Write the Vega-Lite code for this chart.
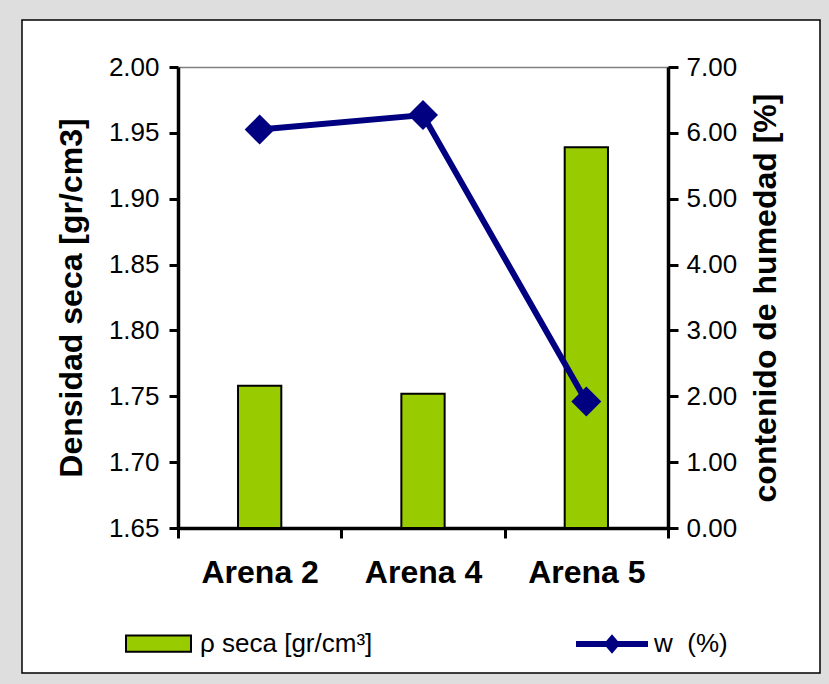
{
  "$schema": "https://vega.github.io/schema/vega-lite/v6.json",
  "width": 798,
  "height": 653,
  "autosize": "none",
  "padding": {"left": 22, "top": 20, "right": 9, "bottom": 11},
  "background": "#dedede",
  "config": {
    "font": "Liberation Sans",
    "view": {"fill": "white", "stroke": "black", "strokeWidth": 1.5},
    "axis": {
      "grid": false,
      "domainColor": "black",
      "tickColor": "black",
      "labelColor": "black",
      "titleColor": "black",
      "labelFont": "Liberation Sans",
      "titleFont": "Liberation Sans"
    },
    "legend": {"labelFont": "Liberation Sans", "labelColor": "black", "labelLimit": 400}
  },
  "data": {
    "values": [
      {"muestra": "Arena 2", "densidad": 1.758, "w": 6.05},
      {"muestra": "Arena 4", "densidad": 1.752, "w": 6.27},
      {"muestra": "Arena 5", "densidad": 1.939, "w": 1.92}
    ]
  },
  "layer": [
    {
      "mark": {"type": "bar", "width": {"band": 0.265}, "stroke": "black", "strokeWidth": 2},
      "encoding": {
        "x": {
          "field": "muestra",
          "type": "nominal",
          "sort": null,
          "scale": {"range": [156, 646], "paddingInner": 0, "paddingOuter": 0},
          "axis": {
            "orient": "bottom",
            "offset": -145,
            "title": null,
            "labelAngle": 0,
            "labelFontSize": 32,
            "labelFontWeight": "bold",
            "labelPadding": 19,
            "tickBand": "extent",
            "tickSize": 10,
            "tickWidth": 3,
            "domainWidth": 3.5
          }
        },
        "y": {
          "field": "densidad",
          "type": "quantitative",
          "scale": {"domain": [1.65, 2.0], "range": [508, 47], "zero": false, "nice": false},
          "axis": {
            "orient": "left",
            "offset": -156,
            "values": [1.65, 1.7, 1.75, 1.8, 1.85, 1.9, 1.95, 2.0],
            "format": ".2f",
            "labelFontSize": 26,
            "labelPadding": 10,
            "tickSize": 9,
            "tickWidth": 3,
            "domainWidth": 3.5,
            "title": "Densidad seca [gr/cm3]",
            "titleFontSize": 32,
            "titleFontWeight": "bold",
            "titlePadding": 20
          }
        },
        "y2": {"datum": 1.65},
        "fill": {
          "datum": "ρ seca [gr/cm³]",
          "scale": {"range": ["#99cc00"]},
          "legend": {
            "orient": "none",
            "legendX": 103,
            "legendY": 590,
            "title": null,
            "padding": 0,
            "symbolType": "M-1,-0.25H1V0.25H-1Z",
            "symbolSize": 4225,
            "symbolStrokeColor": "black",
            "symbolStrokeWidth": 2,
            "labelFontSize": 26,
            "labelOffset": 8
          }
        }
      }
    },
    {
      "mark": {
        "type": "line",
        "strokeWidth": 6,
        "point": {"shape": "diamond", "size": 900, "filled": true}
      },
      "encoding": {
        "x": {
          "field": "muestra",
          "type": "nominal",
          "sort": null,
          "axis": {
            "orient": "top",
            "offset": -47,
            "title": null,
            "labels": false,
            "ticks": false,
            "domainColor": "#808080",
            "domainWidth": 1.5
          }
        },
        "y": {
          "field": "w",
          "type": "quantitative",
          "scale": {"domain": [0, 7], "range": [508, 47], "nice": false},
          "axis": {
            "orient": "right",
            "offset": -152,
            "values": [0, 1, 2, 3, 4, 5, 6, 7],
            "format": ".2f",
            "labelFontSize": 26,
            "labelPadding": 8,
            "tickSize": 10,
            "tickWidth": 3,
            "domainWidth": 3.5,
            "title": "contenido de humedad [%]",
            "titleFontSize": 32,
            "titleFontWeight": "bold",
            "titleAngle": -90,
            "titleBaseline": "top",
            "titlePadding": 14
          }
        },
        "color": {
          "datum": "w  (%)",
          "scale": {"range": ["#000080"]},
          "legend": {
            "orient": "none",
            "legendX": 551,
            "legendY": 585,
            "title": null,
            "padding": 0,
            "symbolType": "M-1,0H1M-0.12,0L0,-0.14L0.12,0L0,0.14Z",
            "symbolSize": 5184,
            "symbolStrokeWidth": 6,
            "labelFontSize": 26,
            "labelOffset": 3,
            "labelExpr": "'w\u00a0\u00a0(%)'",
            "encode": {"symbols": {"update": {"fill": {"value": "#000080"}, "stroke": {"value": "#000080"}}}}
          }
        }
      }
    }
  ],
  "resolve": {"scale": {"y": "independent"}, "axis": {"x": "independent"}}
}
